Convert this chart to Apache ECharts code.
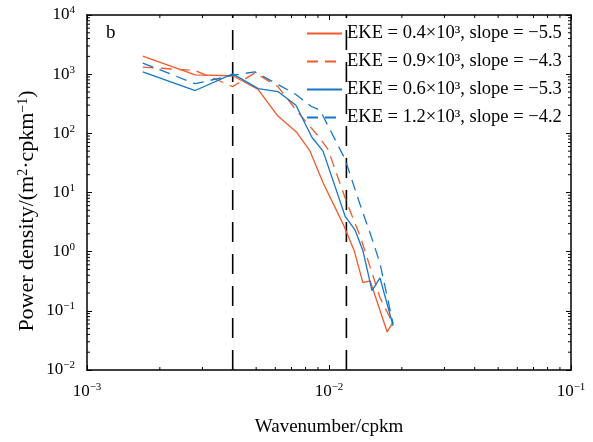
<!DOCTYPE html>
<html><head><meta charset="utf-8">
<script src="https://cdn.jsdelivr.net/npm/echarts@6/dist/echarts.min.js"></script>
<style>html,body{margin:0;padding:0;background:#fff}#c{width:593px;height:442px}</style>
</head><body><div id="c"></div>
<script>
const seriesNames = ['EKE = 0.4×10³, slope = −5.5', 'EKE = 0.9×10³, slope = −4.3', 'EKE = 0.6×10³, slope = −5.3', 'EKE = 1.2×10³, slope = −4.2'];
// wavenumber (cpkm) and power density for each EKE case
const k04 = [0.0017,0.0028,0.004,0.0051,0.00615,0.00737,0.00835,0.00945,0.01143,0.0127,0.0138,0.0148,0.0174,0.0184];
const p04 = [2010,975,940,550,196,103,50,14.6,2.95,1.05,0.30,0.32,0.044,0.065];
const k09 = [0.0017,0.0028,0.004,0.00494,0.00615,0.00737,0.0090,0.0099,0.01187,0.01343,0.01624,0.0184];
const p09 = [1320,1150,617,1052,617,238,91,54,6.6,1.87,0.168,0.060];
const k06 = [0.0017,0.0028,0.004,0.0051,0.00615,0.0073,0.00851,0.00945,0.01165,0.0128,0.0138,0.01505,0.01624,0.0184];
const p06 = [1094,529,1013,571,509,299,85,50,4.0,2.34,1.05,0.22,0.36,0.056];
const k12 = [0.0017,0.0028,0.004,0.00494,0.00627,0.0073,0.00843,0.00918,0.01165,0.01343,0.01505,0.01624,0.0184];
const p12 = [1540,690,960,1094,641,454,287,247,36.6,6.3,1.66,0.64,0.060];
const dividers = [0.004, 0.0118];
const xRange = [0.001, 0.1];
const yRange = [0.01, 10000];

const FONT = 'Liberation Serif';
const ORANGE = '#EF5B2B', BLUE = '#1677C7';

const minorX = [], minorY = [];
for (let e = -3; e < -1; e++) for (let m = 2; m <= 9; m++) minorX.push(m * Math.pow(10, e));
for (let e = -2; e < 4; e++) for (let m = 2; m <= 9; m++) minorY.push(m * Math.pow(10, e));
const tickData = minorX.map(v => [v, 1, 0]).concat(minorY.map(v => [0.01, v, 1]));

function sup(v) {
  const e = Math.round(Math.log10(v));
  return '{b|10}{s|' + (e < 0 ? '−' + (-e) : e) + '}';
}
const rich = {
  b: {fontFamily: FONT, fontSize: 17, color: '#000', lineHeight: 20},
  s: {fontFamily: FONT, fontSize: 11, color: '#000', lineHeight: 10, verticalAlign: 'top'}
};
const axLine = {show: true, lineStyle: {color: '#000', width: 1.5}};
const axTick = {show: true, inside: true, length: 5, lineStyle: {color: '#000', width: 1}};

function mk(name, ks, ps, color, dashed) {
  return {
    name, type: 'line', data: ks.map((k, i) => [k, ps[i]]),
    symbol: 'none', showSymbol: false, animation: false, z: 3,
    lineStyle: {color, width: 1.3, type: dashed ? [11, 7] : 'solid'},
    itemStyle: {color}
  };
}
const dividerSeries = dividers.map(v => ({
  type: 'line', name: 'divider', silent: true, animation: false, symbol: 'none', z: 2,
  data: [[v, yRange[0]], [v, yRange[1]]],
  lineStyle: {color: '#000', width: 1.6, type: [20, 12]}
}));

const chart = echarts.init(document.getElementById('c'));
chart.setOption({
  animation: false,
  backgroundColor: '#fff',
  grid: {left: 87, right: 22, top: 15, bottom: 65, containLabel: false},
  xAxis: [
    {type: 'log', logBase: 10, min: xRange[0], max: xRange[1], position: 'bottom',
     name: 'Wavenumber/cpkm', nameLocation: 'middle', nameGap: 48,
     nameTextStyle: {fontFamily: FONT, fontSize: 19, color: '#000'},
     axisLine: axLine, axisTick: axTick, splitLine: {show: false},
     axisLabel: {formatter: sup, rich, margin: 12}},
    {type: 'log', logBase: 10, min: xRange[0], max: xRange[1], position: 'top',
     axisLine: axLine, axisTick: axTick, splitLine: {show: false}, axisLabel: {show: false}}
  ],
  yAxis: [
    {type: 'log', logBase: 10, min: yRange[0], max: yRange[1], position: 'left',
     axisLine: axLine, axisTick: axTick, splitLine: {show: false},
     axisLabel: {formatter: sup, rich, margin: 12}},
    {type: 'log', logBase: 10, min: yRange[0], max: yRange[1], position: 'right',
     axisLine: axLine, axisTick: axTick, splitLine: {show: false}, axisLabel: {show: false}}
  ],
  legend: {
    data: seriesNames, orient: 'vertical', left: 306, top: 24, padding: 0,
    itemWidth: 35, itemHeight: 18, itemGap: 9,
    itemStyle: {opacity: 0},
    textStyle: {fontFamily: FONT, fontSize: 18.5, color: '#000'}
  },
  graphic: [
    {type: 'text', left: 106, top: 24, style: {text: 'b', font: '19px "Liberation Serif"', fill: '#000'}},
    {type: 'text', x: 27, y: 211, rotation: Math.PI / 2,
     style: {text: 'Power density/(m{s|2}·cpkm{s|−1})', align: 'center', verticalAlign: 'middle',
       fontFamily: FONT, fontSize: 22, fill: '#000',
       rich: {s: {fontFamily: FONT, fontSize: 14, fill: '#000', verticalAlign: 'top', lineHeight: 12}}}}
  ],
  series: [
    ...dividerSeries,
    mk(seriesNames[0], k04, p04, ORANGE, false),
    mk(seriesNames[1], k09, p09, ORANGE, true),
    mk(seriesNames[2], k06, p06, BLUE, false),
    mk(seriesNames[3], k12, p12, BLUE, true),
    {
      type: 'custom', name: 'minorTicks', silent: true, animation: false, clip: false,
      data: tickData, encode: {x: 0, y: 1},
      renderItem: function (params, api) {
        const cs = params.coordSys;
        const p = api.coord([api.value(0), api.value(1)]);
        const L = 3, st = {stroke: '#000', lineWidth: 1};
        if (api.value(2) === 0) {
          const x = p[0], yb = cs.y + cs.height, yt = cs.y;
          return {type: 'group', children: [
            {type: 'line', shape: {x1: x, y1: yb, x2: x, y2: yb - L}, style: st},
            {type: 'line', shape: {x1: x, y1: yt, x2: x, y2: yt + L}, style: st}
          ]};
        } else {
          const y = p[1], xl = cs.x, xr = cs.x + cs.width;
          return {type: 'group', children: [
            {type: 'line', shape: {x1: xl, y1: y, x2: xl + L, y2: y}, style: st},
            {type: 'line', shape: {x1: xr, y1: y, x2: xr - L, y2: y}, style: st}
          ]};
        }
      }
    }
  ]
});
</script>
</body></html>
